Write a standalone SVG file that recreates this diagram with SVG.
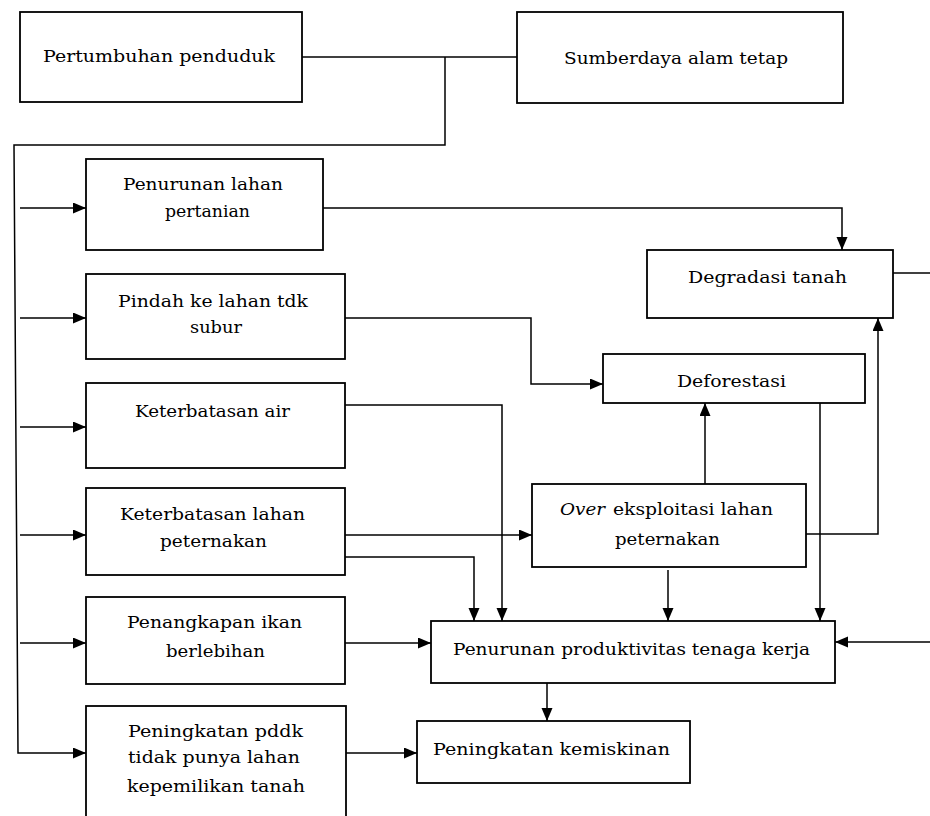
<svg xmlns="http://www.w3.org/2000/svg" width="930" height="816" viewBox="0 0 930 816">
<style>
.box{fill:#fff;stroke:#000;stroke-width:1.8}
.c{fill:none;stroke:#000;stroke-width:1.5}
.a{marker-end:url(#ah)}
text{font-family:"DejaVu Serif","Liberation Serif",serif;font-size:17px;fill:#000}
</style>
<defs>
<marker id="ah" markerUnits="userSpaceOnUse" markerWidth="14" markerHeight="12" refX="13" refY="5.5" orient="auto">
<path d="M0,0 L13,5.5 L0,11 z" fill="#000"/>
</marker>
</defs>
<rect width="930" height="816" fill="#fff"/>
<g id="connectors">
<path class="c" d="M302,57 H517"/>
<path class="c" d="M445,57 V145 H14 L18,753 H86" marker-end="url(#ah)"/>
<path class="c a" d="M20,208 H86"/>
<path class="c a" d="M20,318 H86"/>
<path class="c a" d="M20,427 H86"/>
<path class="c a" d="M20,535 H86"/>
<path class="c a" d="M20,643 H86"/>
<path class="c a" d="M323,208 H842 V250"/>
<path class="c a" d="M345,318 H531 V384 H603"/>
<path class="c a" d="M345,405 H502 V621"/>
<path class="c a" d="M345,535 H532"/>
<path class="c a" d="M345,557 H474 V621"/>
<path class="c a" d="M705,484 V403"/>
<path class="c a" d="M820,403 V621"/>
<path class="c a" d="M806,534 H878 V318"/>
<path class="c a" d="M668,570 V621"/>
<path class="c" d="M893,273 H930"/>
<path class="c a" d="M930,642 H835"/>
<path class="c a" d="M345,643 H431"/>
<path class="c a" d="M547,683 V721"/>
<path class="c a" d="M346,753 H417"/>
</g>
<g id="pertumbuhan">
<rect class="box" x="20" y="12" width="282" height="90"/>
<text x="43" y="62" textLength="232" lengthAdjust="spacingAndGlyphs">Pertumbuhan penduduk</text>
</g>
<g id="sumberdaya">
<rect class="box" x="517" y="12" width="326" height="91"/>
<text x="564" y="64" textLength="224" lengthAdjust="spacingAndGlyphs">Sumberdaya alam tetap</text>
</g>
<g id="penurunan-lahan">
<rect class="box" x="86" y="159" width="237" height="91"/>
<text x="123" y="190" textLength="160" lengthAdjust="spacingAndGlyphs">Penurunan lahan</text>
<text x="165" y="217" textLength="85" lengthAdjust="spacingAndGlyphs">pertanian</text>
</g>
<g id="pindah">
<rect class="box" x="86" y="274" width="259" height="85"/>
<text x="118" y="307" textLength="190" lengthAdjust="spacingAndGlyphs">Pindah ke lahan tdk</text>
<text x="190" y="333" textLength="52" lengthAdjust="spacingAndGlyphs">subur</text>
</g>
<g id="keterbatasan-air">
<rect class="box" x="86" y="383" width="259" height="85"/>
<text x="135" y="417" textLength="155" lengthAdjust="spacingAndGlyphs">Keterbatasan air</text>
</g>
<g id="keterbatasan-lahan">
<rect class="box" x="86" y="488" width="259" height="87"/>
<text x="120" y="520" textLength="185" lengthAdjust="spacingAndGlyphs">Keterbatasan lahan</text>
<text x="160" y="547" textLength="107" lengthAdjust="spacingAndGlyphs">peternakan</text>
</g>
<g id="penangkapan">
<rect class="box" x="86" y="597" width="259" height="87"/>
<text x="127" y="628" textLength="175" lengthAdjust="spacingAndGlyphs">Penangkapan ikan</text>
<text x="166" y="657" textLength="99" lengthAdjust="spacingAndGlyphs">berlebihan</text>
</g>
<g id="peningkatan-pddk">
<rect class="box" x="86" y="706" width="260" height="120"/>
<text x="128" y="737" textLength="175" lengthAdjust="spacingAndGlyphs">Peningkatan pddk</text>
<text x="128" y="763" textLength="172" lengthAdjust="spacingAndGlyphs">tidak punya lahan</text>
<text x="127" y="792" textLength="178" lengthAdjust="spacingAndGlyphs">kepemilikan tanah</text>
</g>
<g id="degradasi">
<rect class="box" x="647" y="250" width="246" height="68"/>
<text x="688" y="283" textLength="159" lengthAdjust="spacingAndGlyphs">Degradasi tanah</text>
</g>
<g id="deforestasi">
<rect class="box" x="603" y="354" width="262" height="49"/>
<text x="677" y="387" textLength="109" lengthAdjust="spacingAndGlyphs">Deforestasi</text>
</g>
<g id="over-eksploitasi">
<rect class="box" x="532" y="484" width="274" height="83"/>
<text x="560" y="515" font-style="italic" textLength="45" lengthAdjust="spacingAndGlyphs">Over</text>
<text x="613" y="515" textLength="160" lengthAdjust="spacingAndGlyphs">eksploitasi lahan</text>
<text x="615" y="545" textLength="105" lengthAdjust="spacingAndGlyphs">peternakan</text>
</g>
<g id="produktivitas">
<rect class="box" x="431" y="621" width="404" height="62"/>
<text x="453" y="655" textLength="357" lengthAdjust="spacingAndGlyphs">Penurunan produktivitas tenaga kerja</text>
</g>
<g id="kemiskinan">
<rect class="box" x="417" y="721" width="273" height="62"/>
<text x="433" y="755" textLength="237" lengthAdjust="spacingAndGlyphs">Peningkatan kemiskinan</text>
</g>
</svg>
